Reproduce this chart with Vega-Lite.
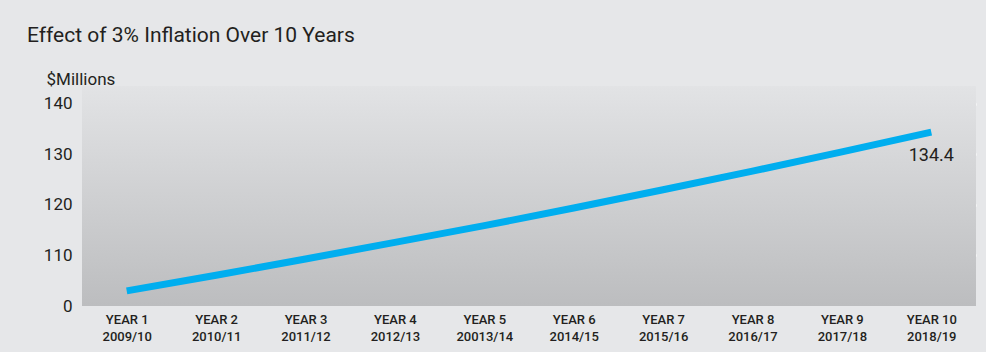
{
  "$schema": "https://vega.github.io/schema/vega-lite/v6.json",
  "autosize": "none",
  "width": 894,
  "height": 239,
  "padding": {"left": 82, "top": 67, "right": 10, "bottom": 46},
  "background": "#e6e7e9",
  "title": {
    "text": "Effect of 3% Inflation Over 10 Years",
    "anchor": "start",
    "frame": "group",
    "dx": -55,
    "offset": 4,
    "baseline": "alphabetic",
    "font": "Roboto",
    "fontSize": 21,
    "fontWeight": "normal",
    "color": "#231f20"
  },
  "config": {
    "view": {"stroke": null},
    "font": "Roboto"
  },
  "data": {
    "values": [
      {"year": "YEAR 1|2009/10", "value": 103.0},
      {"year": "YEAR 2|2010/11", "value": 106.1},
      {"year": "YEAR 3|2011/12", "value": 109.3},
      {"year": "YEAR 4|2012/13", "value": 112.6},
      {"year": "YEAR 5|20013/14", "value": 115.9},
      {"year": "YEAR 6|2014/15", "value": 119.4},
      {"year": "YEAR 7|2015/16", "value": 123.0},
      {"year": "YEAR 8|2016/17", "value": 126.7},
      {"year": "YEAR 9|2017/18", "value": 130.5},
      {"year": "YEAR 10|2018/19", "value": 134.4}
    ]
  },
  "encoding": {
    "x": {
      "field": "year",
      "type": "ordinal",
      "sort": null,
      "scale": {"type": "point", "padding": 0.5},
      "axis": {
        "title": null,
        "labelAngle": 0,
        "labelExpr": "split(datum.label, '|')",
        "labelFont": "Roboto",
        "labelFontSize": 13,
        "labelFontWeight": 500,
        "labelColor": "#231f20",
        "labelLineHeight": 17,
        "labelPadding": 7,
        "labelBaseline": "top",
        "ticks": false,
        "domain": false,
        "grid": false
      }
    },
    "y": {
      "field": "value",
      "type": "quantitative",
      "scale": {"domain": [100, 147.3], "nice": false, "zero": false},
      "axis": {
        "title": "$Millions",
        "titleAngle": 0,
        "titleX": -36,
        "titleY": 17,
        "titleAlign": "left",
        "titleBaseline": "alphabetic",
        "titleLimit": 300,
        "titleFont": "Roboto",
        "titleFontSize": 17,
        "titleFontWeight": "normal",
        "titleColor": "#231f20",
        "values": [100, 110, 120, 130, 140],
        "labelExpr": "datum.value == 100 ? '0' : datum.label",
        "labelFont": "Roboto",
        "labelFontSize": 17,
        "labelColor": "#231f20",
        "labelPadding": 10,
        "ticks": false,
        "domain": false,
        "grid": true,
        "gridColor": {"condition": {"test": "datum.value == 100", "value": "transparent"}, "value": "#ffffff"},
        "gridWidth": 2.5,
        "gridOpacity": 1
      }
    }
  },
  "layer": [
    {
      "mark": {
        "type": "rect",
        "fill": {
          "gradient": "linear",
          "x1": 0, "y1": 0, "x2": 0, "y2": 1,
          "stops": [
            {"offset": 0, "color": "#e2e3e5"},
            {"offset": 1, "color": "#bcbdbf"}
          ]
        }
      },
      "encoding": {
        "x": null,
        "y": {"datum": 143.5, "type": "quantitative"},
        "y2": {"datum": 100}
      }
    },
    {
      "mark": {"type": "line", "color": "#00aeef", "strokeWidth": 7, "strokeCap": "butt"}
    },
    {
      "transform": [{"filter": "datum.value == 134.4"}],
      "mark": {"type": "text", "fontSize": 18, "font": "Roboto", "color": "#231f20", "align": "center", "baseline": "middle", "dy": 24},
      "encoding": {"text": {"field": "value", "type": "quantitative", "format": ".1f"}}
    }
  ]
}
